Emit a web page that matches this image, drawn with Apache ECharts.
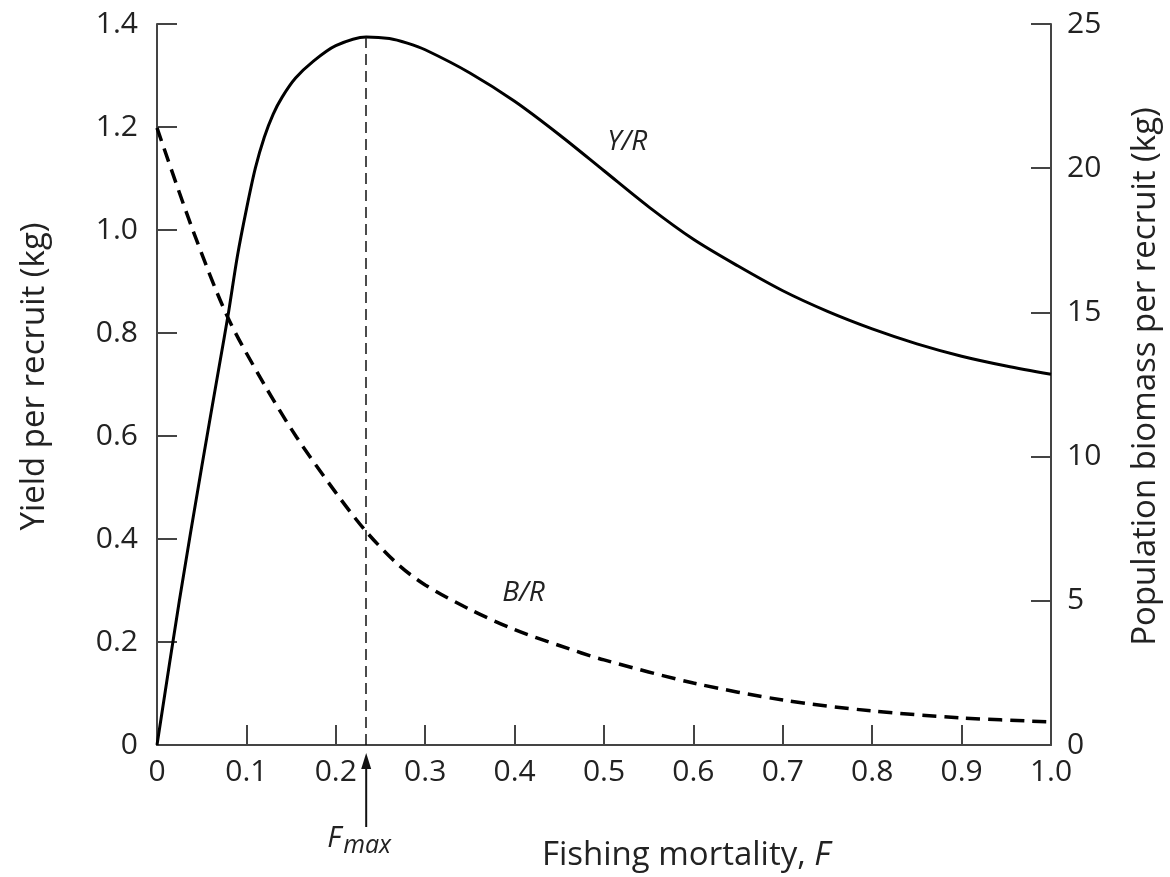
<!DOCTYPE html>
<html><head><meta charset="utf-8">
<script src="https://cdn.jsdelivr.net/npm/echarts@6/dist/echarts.min.js"></script>
<style>html,body{margin:0;padding:0;background:#fff}#c{width:1170px;height:877px}</style>
</head><body><div id="c"></div>
<script>
// Yield per recruit (left axis, kg)
const yrF      = [0,0.025,0.05,0.07,0.08,0.09,0.1,0.11,0.12,0.13,0.14,0.155,0.175,0.2,0.234,0.26,0.28,0.3,0.35,0.4,0.45,0.5,0.55,0.6,0.65,0.7,0.75,0.8,0.85,0.9,0.95,1.0];
const yrValues = [0,0.28,0.54,0.74,0.84,0.95,1.04,1.12,1.18,1.225,1.258,1.295,1.328,1.358,1.375,1.372,1.363,1.35,1.305,1.25,1.185,1.115,1.045,0.982,0.93,0.882,0.842,0.808,0.779,0.755,0.736,0.72];
// Population biomass per recruit (right axis, kg)
const brF      = [0,0.04,0.079,0.12,0.156,0.2,0.234,0.27,0.3,0.35,0.4,0.45,0.5,0.6,0.7,0.8,0.9,1.0];
const brValues = [21.4,17.86,14.84,12.5,10.68,8.75,7.4,6.25,5.55,4.7,4.0,3.45,2.95,2.15,1.56,1.18,0.94,0.80];
const fMax = 0.234;
const yrPeak = 1.375;
const yrLabelPos = [0.526, 1.17];
const brLabelPos = [0.41, 5.27];

const FONT = '"Open Sans", "Noto Sans", sans-serif';
const TXT = '#222';
const AX = '#444';
const chart = echarts.init(document.getElementById('c'));
const axisCommon = {
  axisLine: {show: true, lineStyle: {color: AX, width: 2}},
  axisTick: {show: true, inside: true, length: 20, lineStyle: {color: AX, width: 2}},
  splitLine: {show: false},
  axisLabel: {fontFamily: FONT, fontSize: 30, color: TXT}
};
const titleStyle = {fontFamily: FONT, fontSize: 33, color: TXT, padding: [0, 0, 0, 16]};
const yrData = yrF.map((f, i) => [f, yrValues[i]]);
const brData = brF.map((f, i) => [f, brValues[i]]);
chart.setOption({
  animation: false,
  backgroundColor: '#fff',
  grid: {left: 157, right: 114, top: 24, bottom: 132},
  xAxis: Object.assign({}, axisCommon, {
    type: 'value', min: 0, max: 1, interval: 0.1,
    axisLabel: Object.assign({}, axisCommon.axisLabel, {margin: 12,
      formatter: v => v === 0 ? '0' : v.toFixed(1)})
  }),
  yAxis: [
    Object.assign({}, axisCommon, {
      type: 'value', position: 'left', min: 0, max: 1.4, interval: 0.2,
      name: 'Yield per recruit (kg)', nameLocation: 'middle', nameGap: 106,
      nameTextStyle: titleStyle,
      axisLabel: Object.assign({}, axisCommon.axisLabel, {margin: 19,
        formatter: v => v === 0 ? '0' : v.toFixed(1)})
    }),
    Object.assign({}, axisCommon, {
      type: 'value', position: 'right', min: 0, max: 25, interval: 5,
      alignTicks: false,
      name: 'Population biomass per recruit (kg)', nameLocation: 'middle', nameGap: 78,
      nameTextStyle: titleStyle,
      axisLabel: Object.assign({}, axisCommon.axisLabel, {margin: 16})
    })
  ],
  series: [
    {
      name: 'Y/R', type: 'line', yAxisIndex: 0, data: yrData,
      showSymbol: false, smooth: 0.3,
      lineStyle: {color: '#000', width: 3}, z: 3,
      markLine: {
        silent: true, symbol: ['none', 'none'], label: {show: false},
        lineStyle: {color: '#111', width: 1.5, type: [11, 6]},
        data: [[{coord: [fMax, 0]}, {coord: [fMax, yrPeak]}]]
      }
    },
    {
      name: 'B/R', type: 'line', yAxisIndex: 1, data: brData,
      showSymbol: false, smooth: 0.3,
      lineStyle: {color: '#000', width: 3.5, type: [14, 8]}, z: 3
    }
  ]
});

const p0 = chart.convertToPixel({xAxisIndex: 0, yAxisIndex: 0}, [fMax, 0]);
const pYR = chart.convertToPixel({xAxisIndex: 0, yAxisIndex: 0}, yrLabelPos);
const pBR = chart.convertToPixel({xAxisIndex: 0, yAxisIndex: 1}, brLabelPos);
const ax = p0[0], ay = p0[1];
const italic = {fontFamily: FONT, fontSize: 28, fontStyle: 'italic', fill: TXT};
chart.setOption({
  graphic: [
    {type: 'line', shape: {x1: ax, y1: ay + 22, x2: ax, y2: ay + 82},
     style: {stroke: '#111', lineWidth: 2}},
    {type: 'polygon', shape: {points: [[ax, ay + 8], [ax - 5, ay + 24], [ax + 5, ay + 24]]},
     style: {fill: '#111'}},
    {type: 'text', x: ax - 39, y: ay + 79, style: Object.assign({}, italic, {text: 'F', fontSize: 29})},
    {type: 'text', x: ax - 23, y: ay + 88, style: Object.assign({}, italic, {text: 'max', fontSize: 25})},
    {type: 'text', x: pYR[0], y: pYR[1], style: Object.assign({}, italic, {text: 'Y/R', align: 'center', verticalAlign: 'middle'})},
    {type: 'text', x: pBR[0], y: pBR[1], style: Object.assign({}, italic, {text: 'B/R', align: 'center', verticalAlign: 'middle'})},
    {type: 'text', x: 686, y: 856, style: {
      text: '{n|Fishing mortality, }{i|F}', align: 'center', verticalAlign: 'middle',
      rich: {n: {fontFamily: FONT, fontSize: 33, fill: TXT, color: TXT},
             i: {fontFamily: FONT, fontSize: 33, fontStyle: 'italic', fill: TXT, color: TXT}}}}
  ]
});
</script></body></html>
